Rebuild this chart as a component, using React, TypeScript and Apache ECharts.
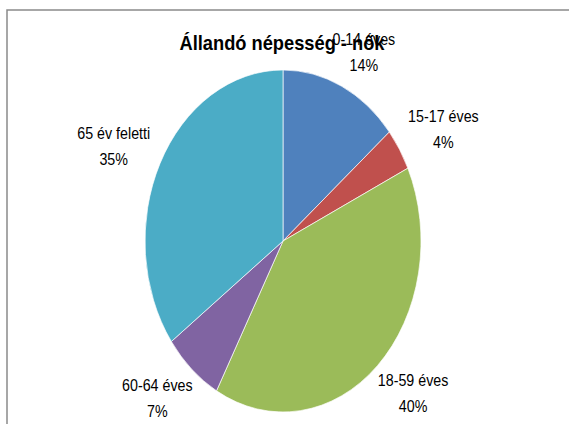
import React, { useEffect, useRef } from "react";
import * as echarts from "echarts";

const title = "Állandó népesség - nők";
const categories = ["0-14 éves", "15-17 éves", "18-59 éves", "60-64 éves", "65 év feletti"];
const values = [14, 4, 40, 7, 35];
const colors = ["#4F81BD", "#C0504D", "#9BBB59", "#8064A2", "#4BACC6"];

const FONT = "'Liberation Sans', Arial, sans-serif";

export default function App() {
  const ref = useRef<HTMLDivElement>(null);
  useEffect(() => {
    document.body.style.margin = "0";
    const chart = echarts.init(ref.current!, null, { renderer: "svg" });
    const total = values.reduce((a, b) => a + b, 0);
    const cx = 283, cy = 241, rx = 138, ry = 171;
    const lrx = rx + 52, lry = ry + 38;
    chart.setOption({
      animation: false,
      backgroundColor: "#ffffff",
      graphic: [
        {
          type: "rect",
          shape: { x: 7, y: 10, width: 620, height: 500 },
          style: { fill: "none", stroke: "#8a8a8a", lineWidth: 1.5 },
          silent: true,
          z: 0,
        },
        {
          type: "text",
          x: 282,
          y: 43,
          scaleX: 0.87,
          z: 100,
          style: {
            text: title,
            fill: "#000",
            fontFamily: FONT,
            fontSize: 21,
            fontWeight: "bold",
            align: "center",
            verticalAlign: "middle",
          },
        },
      ],
      series: [
        {
          type: "custom",
          coordinateSystem: "none",
          z: 2,
          data: values.map((v, i) => [v, i]),
          renderItem: (params: any, api: any) => {
            const i = params.dataIndex;
            const v = api.value(0);
            let cum = 0;
            for (let k = 0; k < i; k++) cum += values[k];
            const a0 = (cum / total) * Math.PI * 2;
            const a1 = ((cum + v) / total) * Math.PI * 2;
            const mid = (a0 + a1) / 2;
            const lx = cx + Math.sin(mid) * lrx;
            const ly = cy - Math.cos(mid) * lry;
            const pct = Math.round((v / total) * 100) + "%";
            return {
              type: "group",
              children: [
                {
                  type: "sector",
                  x: cx,
                  y: cy,
                  scaleY: ry / rx,
                  shape: {
                    cx: 0,
                    cy: 0,
                    r0: 0,
                    r: rx,
                    startAngle: a0 - Math.PI / 2,
                    endAngle: a1 - Math.PI / 2,
                    clockwise: true,
                  },
                  style: { fill: colors[i], stroke: "#ffffff", lineWidth: 0.6 },
                },
                {
                  type: "text",
                  x: lx,
                  y: ly,
                  scaleX: 0.84,
                  style: {
                    text: categories[i] + "\n" + pct,
                    fill: "#000",
                    fontFamily: FONT,
                    fontSize: 17,
                    lineHeight: 26,
                    align: "center",
                    verticalAlign: "middle",
                  },
                },
              ],
            };
          },
        },
      ],
    });
    return () => chart.dispose();
  }, []);
  return (
    <div
      ref={ref}
      style={{ position: "absolute", left: 0, top: 0, width: 569, height: 424 }}
    />
  );
}
